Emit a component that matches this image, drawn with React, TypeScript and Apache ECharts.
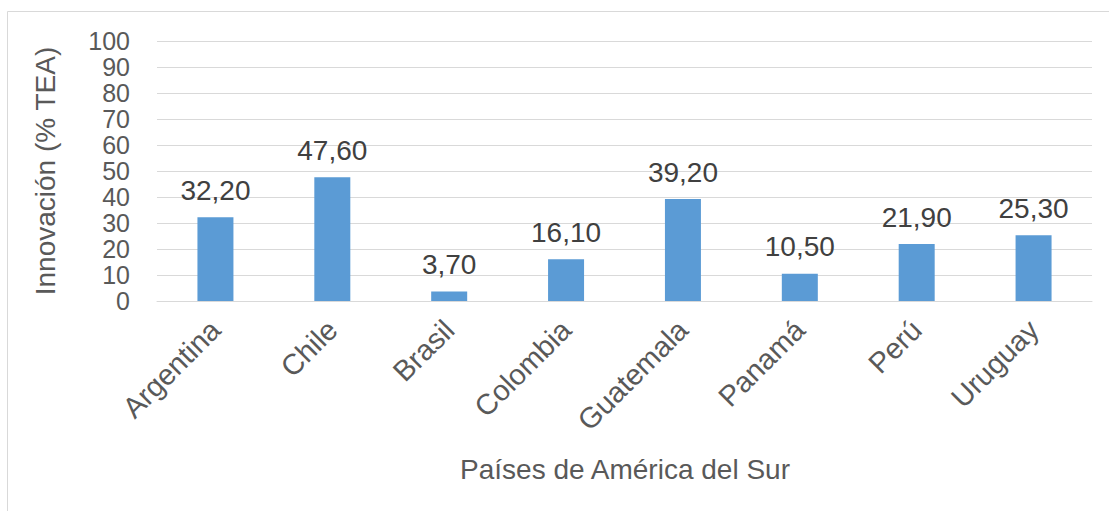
import React, { useEffect, useRef } from "react";
import * as echarts from "echarts";

const categories = ["Argentina", "Chile", "Brasil", "Colombia", "Guatemala", "Panamá", "Perú", "Uruguay"];
const values = [32.2, 47.6, 3.7, 16.1, 39.2, 10.5, 21.9, 25.3];
const yTitle = "Innovación (% TEA)";
const xTitle = "Países de América del Sur";

export default function App() {
  const ref = useRef<HTMLDivElement>(null);
  useEffect(() => {
    const chart = echarts.init(ref.current!, null, { renderer: "svg" });
    const font = "Liberation Sans, Arial, sans-serif";
    chart.setOption({
      animation: false,
      backgroundColor: "#ffffff",
      textStyle: { fontFamily: font },
      graphic: [
        {
          type: "rect",
          shape: { x: 7.5, y: 11.5, width: 1130, height: 530 },
          style: { fill: "none", stroke: "#d9d9d9", lineWidth: 1 },
          silent: true,
        },
        {
          type: "text",
          x: 625,
          y: 469,
          style: { text: xTitle, font: `28px ${font}`, fill: "#595959", align: "center", verticalAlign: "middle" },
        },
      ],
      grid: { left: 157, right: 17, top: 41, bottom: 210, containLabel: false },
      xAxis: {
        type: "category",
        data: categories,
        axisLine: { show: true, lineStyle: { color: "#d9d9d9", width: 1 } },
        axisTick: { show: false },
        axisLabel: { rotate: 45, color: "#595959", fontSize: 29, fontFamily: font, margin: 24, interval: 0 },
      },
      yAxis: {
        type: "value",
        min: 0,
        max: 100,
        interval: 10,
        name: yTitle,
        nameLocation: "middle",
        nameGap: 98,
        nameRotate: 90,
        nameTextStyle: { color: "#595959", fontSize: 28, fontFamily: font },
        axisLine: { show: false },
        axisTick: { show: false },
        axisLabel: {
          color: "#595959",
          fontSize: 25,
          fontFamily: font,
          margin: 27,
          showMinLabel: true,
          showMaxLabel: true,
        },
        splitLine: { lineStyle: { color: "#d9d9d9", width: 1 } },
      },
      series: [
        {
          type: "bar",
          data: values,
          barWidth: 36,
          itemStyle: { color: "#5b9bd5" },
          label: {
            show: true,
            position: "top",
            distance: 13,
            color: "#404040",
            fontSize: 28,
            fontFamily: font,
            formatter: (p: any) => p.value.toFixed(2).replace(".", ","),
          },
        },
      ],
    });
    return () => chart.dispose();
  }, []);
  return <div ref={ref} style={{ position: "absolute", left: 0, top: 0, width: 1109, height: 511 }} />;
}
